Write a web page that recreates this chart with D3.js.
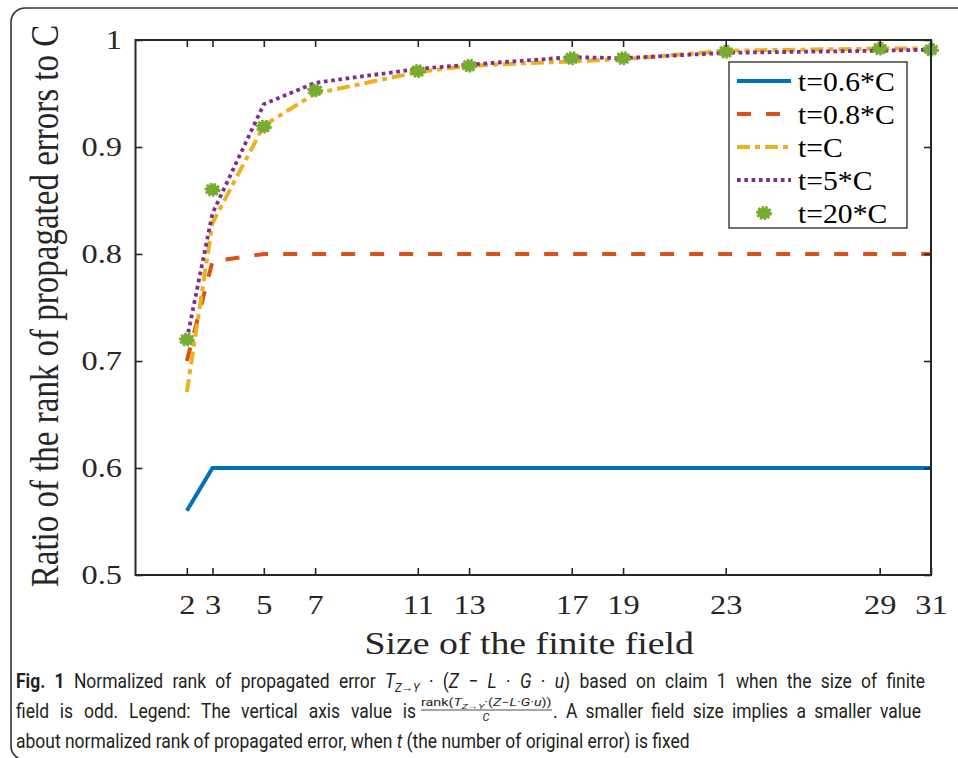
<!DOCTYPE html>
<html>
<head>
<meta charset="utf-8">
<script src="https://cdn.jsdelivr.net/npm/d3@7"></script>
<style>
  html, body { margin: 0; padding: 0; background: #fff; }
  svg { display: block; }
</style>
</head>
<body>
<svg id="chart" width="958" height="758"></svg>
<script>
// ---------- data ----------
const fieldSizes = [2, 3, 5, 7, 11, 13, 17, 19, 23, 29, 31];
const t06C  = [0.560, 0.600, 0.600, 0.600, 0.600, 0.600, 0.600, 0.600, 0.600, 0.600, 0.600];
const t08C  = [0.700, 0.793, 0.800, 0.800, 0.800, 0.800, 0.800, 0.800, 0.800, 0.800, 0.800];
const tC    = [0.671, 0.829, 0.920, 0.950, 0.970, 0.976, 0.980, 0.982, 0.990, 0.992, 0.992];
const t5C   = [0.720, 0.838, 0.940, 0.960, 0.973, 0.977, 0.984, 0.983, 0.988, 0.990, 0.991];
const t20C  = [0.720, 0.860, 0.919, 0.953, 0.971, 0.976, 0.983, 0.983, 0.989, 0.992, 0.991];
const seriesNames = ["t=0.6*C", "t=0.8*C", "t=C", "t=5*C", "t=20*C"];
const yTicks = [0.5, 0.6, 0.7, 0.8, 0.9, 1];
const yTickLabels = ["0.5", "0.6", "0.7", "0.8", "0.9", "1"];
const xTickLabels = ["2", "3", "5", "7", "11", "13", "17", "19", "23", "29", "31"];
const xTitle = "Size of the finite field";
const yTitle = "Ratio of the rank of propagated errors to C";

// ---------- setup ----------
const svg = d3.select("#chart");
const L = 135.5, R = 931, T = 40, B = 575;
const x = d3.scaleLinear().domain([0, 31]).range([L, R]);
const y = d3.scaleLinear().domain([0.5, 1]).range([B, T]);
const axisColor = "#262626";
const serif = "'Liberation Serif', 'Times New Roman', serif";
const sans = "Roboto, 'Open Sans', sans-serif";
const SX = 1.2; // horizontal stretch of the original figure text

// outer frame
svg.append("rect")
  .attr("x", 11).attr("y", 8).attr("width", 1000).attr("height", 752)
  .attr("rx", 14).attr("ry", 14)
  .attr("fill", "none").attr("stroke", "#333").attr("stroke-width", 1.6);

// ---------- lines ----------
const styles = [
  { color: "#0072BD", dash: null,        width: 4 },
  { color: "#D95319", dash: "14,15",     width: 4 },
  { color: "#EDB120", dash: "13,5,5,5",  width: 4 },
  { color: "#7E2F8E", dash: "3.7,3.6",   width: 3.8 },
];
const seriesData = [t06C, t08C, tC, t5C];
const line = d3.line().x((d, i) => x(fieldSizes[i])).y(d => y(d));
const gLines = svg.append("g");
seriesData.forEach((vals, k) => {
  gLines.append("path")
    .datum(vals)
    .attr("d", line)
    .attr("fill", "none")
    .attr("stroke", styles[k].color)
    .attr("stroke-width", styles[k].width)
    .attr("stroke-dasharray", styles[k].dash)
    .attr("stroke-linejoin", "miter")
    .attr("stroke-linecap", "butt");
});

// markers for t=20*C
function marker(sel, cx, cy) {
  sel.append("ellipse")
    .attr("cx", cx).attr("cy", cy).attr("rx", 6.5).attr("ry", 5.5)
    .attr("fill", "#77AC30")
    .attr("stroke", "#77AC30").attr("stroke-width", 3)
    .attr("stroke-dasharray", "2.4,1.2");
}
const gMarks = svg.append("g");
t20C.forEach((v, i) => marker(gMarks, x(fieldSizes[i]), y(v)));

// ---------- axes ----------
const xAxis = d3.axisBottom(x).tickValues(fieldSizes).tickSize(-7)
  .tickFormat((d, i) => xTickLabels[i]);
const gx = svg.append("g").attr("transform", `translate(0,${B})`).call(xAxis);
gx.select(".domain").remove();
gx.selectAll(".tick line").attr("stroke", axisColor).attr("stroke-width", 1.6);
gx.selectAll(".tick text")
  .attr("y", 39).attr("dy", 0)
  .attr("font-family", serif).attr("font-size", 27).attr("fill", axisColor)
  .attr("transform", `scale(${SX},1)`);

const xTop = d3.axisTop(x).tickValues(fieldSizes).tickSize(-7).tickFormat("");
const gxt = svg.append("g").attr("transform", `translate(0,${T})`).call(xTop);
gxt.select(".domain").remove();
gxt.selectAll(".tick line").attr("stroke", axisColor).attr("stroke-width", 1.6);

const yAxis = d3.axisLeft(y).tickValues(yTicks).tickSize(-7)
  .tickFormat((d, i) => yTickLabels[i]);
const gy = svg.append("g").attr("transform", `translate(${L},0)`).call(yAxis);
gy.select(".domain").remove();
gy.selectAll(".tick line").attr("stroke", axisColor).attr("stroke-width", 1.6);
gy.selectAll(".tick text")
  .attr("x", -13.5 / SX).attr("dy", "0.33em")
  .attr("font-family", serif).attr("font-size", 27).attr("fill", axisColor)
  .attr("transform", `scale(${SX},1)`);

const yRight = d3.axisRight(y).tickValues(yTicks).tickSize(-7).tickFormat("");
const gyr = svg.append("g").attr("transform", `translate(${R},0)`).call(yRight);
gyr.select(".domain").remove();
gyr.selectAll(".tick line").attr("stroke", axisColor).attr("stroke-width", 1.6);

// box
svg.append("rect")
  .attr("x", L).attr("y", T).attr("width", R - L).attr("height", B - T)
  .attr("fill", "none").attr("stroke", axisColor).attr("stroke-width", 2);

// axis titles
svg.append("text")
  .attr("transform", `translate(${(L + R) / 2 - 4},654) scale(${SX},1)`)
  .attr("text-anchor", "middle")
  .attr("font-family", serif).attr("font-size", 31.5).attr("fill", axisColor)
  .text(xTitle);

svg.append("text")
  .attr("transform", `translate(58,306) scale(${SX},1) rotate(-90)`)
  .attr("text-anchor", "middle")
  .attr("font-family", serif).attr("font-size", 33).attr("fill", axisColor)
  .text(yTitle);

// ---------- legend ----------
const lg = svg.append("g");
lg.append("rect")
  .attr("x", 729).attr("y", 62).attr("width", 178).attr("height", 166)
  .attr("fill", "#fff").attr("stroke", axisColor).attr("stroke-width", 1.3);
seriesNames.forEach((name, i) => {
  const yy = 81 + i * 33;
  if (i < 4) {
    lg.append("line")
      .attr("x1", 737).attr("x2", 791).attr("y1", yy).attr("y2", yy)
      .attr("stroke", styles[i].color).attr("stroke-width", styles[i].width)
      .attr("stroke-dasharray", styles[i].dash);
  } else {
    marker(lg, 764, yy);
  }
  lg.append("text")
    .attr("transform", `translate(798,${yy + 10}) scale(1.12,1)`)
    .attr("font-family", serif).attr("font-size", 26.5).attr("fill", "#000")
    .text(name);
});

// ---------- caption ----------
function fit(sel, x0, x1, yb) {
  const w = sel.node().getBBox().width;
  const s = (x1 - x0) / w;
  sel.attr("transform", `translate(${x0},${yb}) scale(${s},1)`);
  return s;
}
// justify: fixed horizontal scale s, adjust the word spacing to reach x1
function justify(sel, x0, x1, yb, s) {
  sel.attr("transform", `translate(${x0},${yb}) scale(${s},1)`);
  const w = sel.node().getBBox().width;
  const n = (sel.text().match(/ /g) || []).length;
  if (n > 0) {
    const ws = ((x1 - x0) / s - w) / n;
    sel.style("word-spacing", ws + "px");
    const w2 = sel.node().getBBox().width;
    if (Math.abs(w2 * s - (x1 - x0)) > 3) { sel.style("word-spacing", null); fit(sel, x0, x1, yb); }
  }
}
const capColor = "#231f20";
const cap = svg.append("g").attr("font-family", sans).attr("font-size", 20).attr("fill", capColor);

// line 3 (last line of a justified paragraph) sets the condensed scale
const l3 = cap.append("text");
l3.append("tspan").text("about normalized rank of propagated error, when ");
l3.append("tspan").attr("font-style", "italic").text("t");
l3.append("tspan").text(" (the number of original error) is fixed");
const s0 = fit(l3, 16, 690, 748);

// line 1
const l1 = cap.append("text");
l1.append("tspan").attr("font-weight", "bold").text("Fig. 1");
l1.append("tspan").text(" Normalized rank of propagated error ");
l1.append("tspan").attr("font-style", "italic").text("T");
l1.append("tspan").attr("font-style", "italic").attr("font-size", 13).attr("dy", 4).text("Z\u2192Y");
l1.append("tspan").attr("dy", -4).text(" \u00B7 (");
l1.append("tspan").attr("font-style", "italic").text("Z");
l1.append("tspan").text(" \u2212 ");
l1.append("tspan").attr("font-style", "italic").text("L");
l1.append("tspan").text(" \u00B7 ");
l1.append("tspan").attr("font-style", "italic").text("G");
l1.append("tspan").text(" \u00B7 ");
l1.append("tspan").attr("font-style", "italic").text("u");
l1.append("tspan").text(") based on claim 1 when the size of finite");
justify(l1, 16, 925, 688, s0);

// line 2
const l2a = cap.append("text").text("field is odd. Legend: The vertical axis value is");
justify(l2a, 16, 416, 718, s0);
const num = cap.append("text").attr("font-size", 11);
num.append("tspan").text("rank(");
num.append("tspan").attr("font-style", "italic").text("T");
num.append("tspan").attr("font-style", "italic").attr("font-size", 8).attr("dy", 2.5).text("Z\u2192Y");
num.append("tspan").attr("dy", -2.5).text("\u00B7(");
num.append("tspan").attr("font-style", "italic").text("Z");
num.append("tspan").text("\u2212");
num.append("tspan").attr("font-style", "italic").text("L");
num.append("tspan").text("\u00B7");
num.append("tspan").attr("font-style", "italic").text("G");
num.append("tspan").text("\u00B7");
num.append("tspan").attr("font-style", "italic").text("u");
num.append("tspan").text("))");
fit(num, 421, 552, 706);
cap.append("line").attr("x1", 421).attr("x2", 552).attr("y1", 710).attr("y2", 710)
  .attr("stroke", capColor).attr("stroke-width", 0.8);
cap.append("text").attr("x", 486).attr("y", 721).attr("font-size", 11)
  .attr("font-style", "italic").attr("text-anchor", "middle").text("C");
const l2b = cap.append("text").text(". A smaller field size implies a smaller value");
justify(l2b, 553, 921, 718, s0);
</script>
</body>
</html>
